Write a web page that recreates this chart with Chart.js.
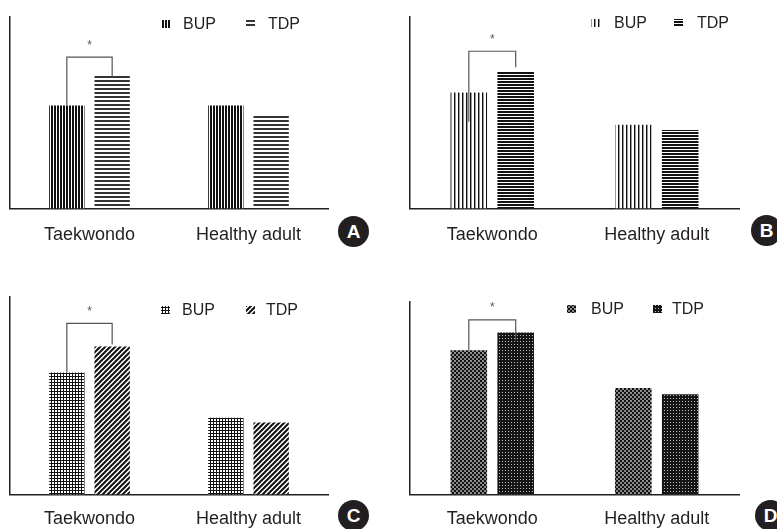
<!DOCTYPE html>
<html lang="en">
<head>
<meta charset="UTF-8">
<title>BUP vs TDP</title>
<script src="https://cdn.jsdelivr.net/npm/chart.js"></script>
<style>
  body { margin: 0; width: 777px; height: 529px; overflow: hidden; background: #fff; position: relative; font-family: "Liberation Sans", Arial, sans-serif; }
  canvas { position: absolute; }
  .badge { position: absolute; width: 31px; height: 31px; border-radius: 50%; background: #231f20; color: #fff;
           font: bold 19px "Liberation Sans", Arial, sans-serif; line-height: 31px; text-align: center; }
</style>
</head>
<body>
  <canvas id="cA" width="388" height="262" style="left:0;top:0"></canvas>
  <canvas id="cB" width="387" height="262" style="left:390px;top:0"></canvas>
  <canvas id="cC" width="388" height="282" style="left:0;top:262px"></canvas>
  <canvas id="cD" width="387" height="282" style="left:390px;top:262px"></canvas>
  <div class="badge" style="left:338px;top:216px">A</div>
  <div class="badge" style="left:751px;top:215px">B</div>
  <div class="badge" style="left:338px;top:500px">C</div>
  <div class="badge" style="left:755px;top:500px">D</div>
<script>
    // values (no y scale printed, so relative units 0-100)
    const categories = ['Taekwondo', 'Healthy adult'];
    const seriesNames = ['BUP', 'TDP'];

    const bupA = [53.7, 53.7];
    const tdpA = [69.5, 48.4];
    const bupB = [60.5, 43.7];
    const tdpB = [71.6, 40.9];
    const bupC = [61.7, 38.8];
    const tdpC = [74.9, 36.4];
    const bupD = [74.9, 55.3];
    const tdpD = [84.2, 52.1];

    // significance bracket over Taekwondo: [top, left leg end, right leg end]
    const bracketA = [79.0, 53.7, 68.4];
    const bracketB = [82.1, 45.3, 73.7];
    const bracketC = [86.6, 61.7, 75.9];
    const bracketD = [90.7, 74.9, 80.2];

    const ink = '#231f20';

    function makePattern(size, draw) {
        const c = document.createElement('canvas');
        c.width = size;
        c.height = size;
        const g = c.getContext('2d');
        g.fillStyle = '#fff';
        g.fillRect(0, 0, size, size);
        draw(g, size);
        return g.createPattern(c, 'repeat');
    }

    const patterns = {
        vertBold: makePattern(3, (g, s) => { g.fillStyle = '#111'; g.fillRect(0, 0, 2, s); }),
        horizGray: makePattern(4, (g, s) => { g.fillStyle = '#333'; g.fillRect(0, 0, s, 2); }),
        vertThin: makePattern(4, (g, s) => { g.fillStyle = '#111'; g.fillRect(0, 0, 1, s); g.fillStyle = '#999'; g.fillRect(1, 0, 1, s); }),
        horizDense: makePattern(3, (g, s) => { g.fillStyle = '#111'; g.fillRect(0, 0, s, 2); }),
        grid: makePattern(3, (g, s) => { g.fillStyle = '#111'; g.fillRect(0, 0, s, 1); g.fillRect(0, 0, 1, s); }),
        diag: makePattern(5, (g, s) => {
            g.strokeStyle = '#111';
            g.lineWidth = 2;
            g.beginPath();
            g.moveTo(-1, s + 1); g.lineTo(s + 1, -1);
            g.moveTo(-1, 1); g.lineTo(1, -1);
            g.moveTo(s - 1, s + 1); g.lineTo(s + 1, s - 1);
            g.stroke();
        }),
        dots: makePattern(4, (g, s) => {
            g.fillStyle = '#111';
            for (const [cx, cy] of [[1, 1], [3, 3]]) {
                for (const dx of [-s, 0, s]) {
                    for (const dy of [-s, 0, s]) {
                        g.beginPath();
                        g.arc(cx + dx, cy + dy, 1.4, 0, Math.PI * 2);
                        g.fill();
                    }
                }
            }
        }),
        darkDots: makePattern(3, (g, s) => { g.fillStyle = '#151515'; g.fillRect(0, 0, s, s); g.fillStyle = '#bbb'; g.fillRect(1, 1, 1, 1); })
    };

    // draws the bracket, asterisk and the little pattern legend
    const annotPlugin = {
        id: 'annot',
        afterDatasetsDraw(chart, args, opts) {
            const ctx = chart.ctx;
            const y = chart.scales.y;
            const b0 = chart.getDatasetMeta(0).data[0];
            const b1 = chart.getDatasetMeta(1).data[0];
            const br = opts.bracket;
            const top = y.getPixelForValue(br[0]);
            ctx.save();
            ctx.strokeStyle = '#555';
            ctx.lineWidth = 1.2;
            ctx.beginPath();
            ctx.moveTo(b0.x, y.getPixelForValue(br[1]));
            ctx.lineTo(b0.x, top);
            ctx.lineTo(b1.x, top);
            ctx.lineTo(b1.x, y.getPixelForValue(br[2]));
            ctx.stroke();

            ctx.fillStyle = '#555';
            ctx.font = '12px "Liberation Sans", Arial, sans-serif';
            ctx.textAlign = 'center';
            ctx.textBaseline = 'middle';
            ctx.fillText('*', (b0.x + b1.x) / 2, top - 12);

            ctx.font = '16px "Liberation Sans", Arial, sans-serif';
            ctx.textAlign = 'left';
            chart.data.datasets.forEach((ds, i) => {
                const [ix, tx] = opts.legend[i];
                ctx.fillStyle = ds.backgroundColor;
                ctx.fillRect(ix, opts.legendY - 4, 9, 8);
                ctx.fillStyle = ink;
                ctx.fillText(ds.label, tx, opts.legendY + 1);
            });
            ctx.restore();
        }
    };

    function makeChart(id, bup, tdp, fills, bracket, pad, tickPad, legend, legendY) {
        return new Chart(document.getElementById(id), {
            type: 'bar',
            data: {
                labels: categories,
                datasets: [
                    { label: seriesNames[0], data: bup, backgroundColor: fills[0], borderWidth: 0 },
                    { label: seriesNames[1], data: tdp, backgroundColor: fills[1], borderWidth: 0 }
                ]
            },
            options: {
                responsive: false,
                animation: false,
                events: [],
                barPercentage: 0.78,
                categoryPercentage: 0.57,
                layout: { padding: pad },
                scales: {
                    x: {
                        grid: { display: false, drawTicks: false },
                        border: { color: ink, width: 1.5 },
                        ticks: { color: ink, padding: tickPad, font: { family: '"Liberation Sans", Arial, sans-serif', size: 18 } }
                    },
                    y: {
                        min: 0,
                        max: 100,
                        grid: { display: false, drawTicks: false },
                        border: { color: ink, width: 1.5 },
                        ticks: { display: false }
                    }
                },
                plugins: {
                    legend: { display: false },
                    tooltip: { enabled: false },
                    annot: { bracket: bracket, legend: legend, legendY: legendY }
                }
            },
            plugins: [annotPlugin]
        });
    }

    makeChart('cA', bupA, tdpA, [patterns.vertBold, patterns.horizGray], bracketA,
        { left: 10, top: 17, right: 60, bottom: 0 }, 16, [[162, 183], [246, 268]], 24);
    makeChart('cB', bupB, tdpB, [patterns.vertThin, patterns.horizDense], bracketB,
        { left: 20, top: 17, right: 38, bottom: 0 }, 16, [[201, 224], [284, 307]], 23);
    makeChart('cC', bupC, tdpC, [patterns.grid, patterns.diag], bracketC,
        { left: 10, top: 35, right: 60, bottom: 0 }, 14, [[161, 182], [246, 266]], 48);
    makeChart('cD', bupD, tdpD, [patterns.dots, patterns.darkDots], bracketD,
        { left: 20, top: 40, right: 38, bottom: 0 }, 14, [[177, 201], [263, 282]], 47);
</script>
</body>
</html>
